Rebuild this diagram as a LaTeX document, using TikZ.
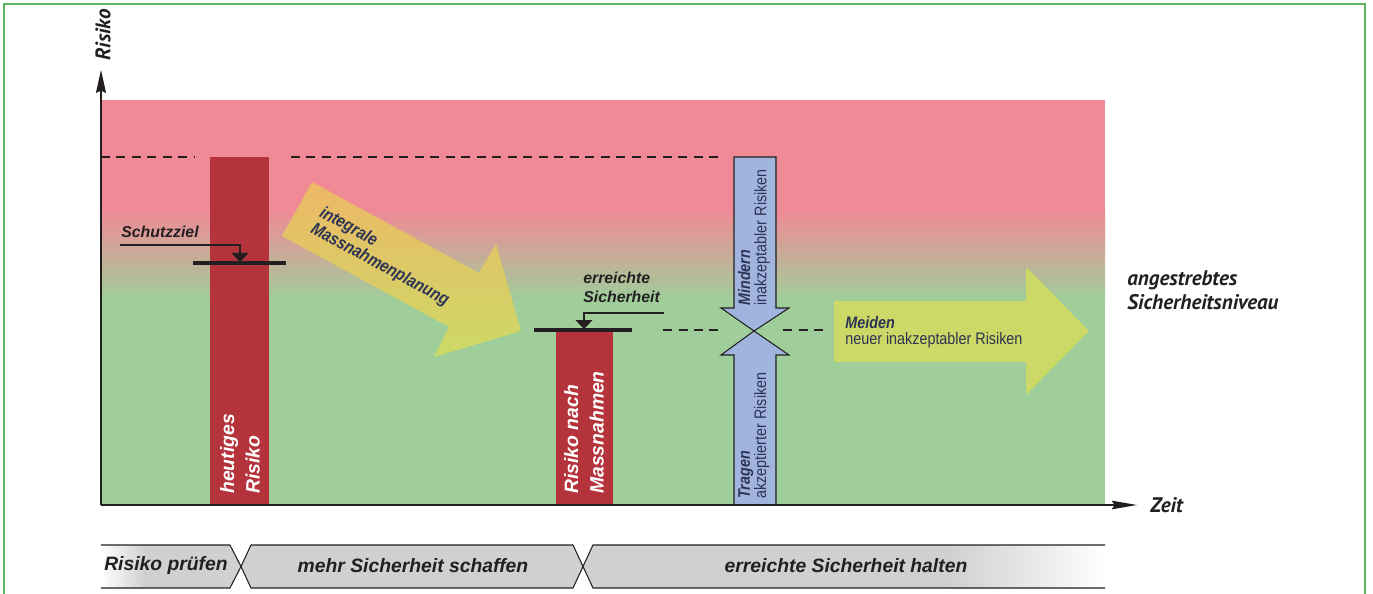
\documentclass[tikz,border=0pt]{standalone}
\usepackage{fontspec}
\setmainfont{Liberation Sans}
\newfontfamily\myriadlike{PT Sans}
\newfontfamily\narrowsans[FakeStretch=0.86]{Liberation Sans}
\usepackage{xcolor}
\usetikzlibrary{positioning,arrows.meta}
\definecolor{RiskPink}{HTML}{F08A96}
\definecolor{SafeGreen}{HTML}{9FCE9A}
\definecolor{BarRed}{HTML}{B5343C}
\definecolor{InkBlack}{HTML}{231F20}
\definecolor{ArrowBlue}{HTML}{A0B4DE}
\definecolor{NavyText}{HTML}{2D3454}
\definecolor{PlanOrange}{HTML}{EDB865}
\definecolor{PlanLime}{HTML}{CCDA66}
\definecolor{MeidLime}{HTML}{CCD966}
\definecolor{FrameGreen}{HTML}{5DB760}
\definecolor{BandGray}{HTML}{D0D0D2}

\begin{document}
\begin{tikzpicture}[x=0.02cm, y=-0.02cm]
    \tikzstyle{axisline}=[InkBlack, line width=1.1pt]
    \tikzstyle{dashline}=[InkBlack, line width=0.6pt, dash pattern=on 0.18cm off 0.13cm]
    \tikzstyle{levelline}=[InkBlack, line width=2pt]
    \tikzstyle{pointer}=[InkBlack, line width=0.7pt, -{Triangle[width=0.34cm, length=0.18cm]}]
    \tikzstyle{blockarrow}=[fill=ArrowBlue, draw=InkBlack, line width=0.6pt]
    \tikzstyle{phase}=[draw=InkBlack, line width=0.6pt]
    \tikzstyle{bartext}=[rotate=90, anchor=west, align=left, text=white, inner sep=0pt,
                         font=\fontsize{11pt}{14.5pt}\selectfont\bfseries\itshape]
    \tikzstyle{labeltext}=[align=left, inner sep=0pt, text=InkBlack,
                           font=\fontsize{9pt}{10.8pt}\selectfont\bfseries\itshape]
    \tikzstyle{axistext}=[inner sep=0pt, text=InkBlack,
                          font=\myriadlike\fontsize{12pt}{13.5pt}\selectfont\bfseries\itshape]
    \tikzstyle{arrowtext}=[align=left, inner sep=0pt, text=NavyText,
                           font=\narrowsans\fontsize{9.5pt}{9.2pt}\selectfont]
    \tikzstyle{phasetext}=[text=InkBlack, font=\fontsize{11pt}{13pt}\selectfont\bfseries\itshape]

    \useasboundingbox (0,0) rectangle (1373,594);
    \draw[FrameGreen, line width=0.85pt] (4,594) -- (4,4) -- (1365,4) -- (1365,594);

    \fill[RiskPink] (101,100) rectangle (1105,210);
    \shade[top color=RiskPink, bottom color=SafeGreen] (101,209.5) rectangle (1105,300.5);
    \fill[SafeGreen] (101,300) rectangle (1105,505);

    \draw[dashline] (101,157) -- (195,157);
    \draw[dashline] (291,157) -- (720,157);
    \draw[dashline] (663,330) -- (722,330);
    \draw[dashline] (783,330) -- (828,330);

    \fill[BarRed] (210,157) rectangle (269,505);
    \fill[BarRed] (556,330) rectangle (613,505);
    \draw[levelline] (193,263) -- (286,263);
    \draw[levelline] (534,330) -- (632,330);

    \coordinate (schutzTail) at (120,245);
    \coordinate (schutzLevel) at (240,262);
    \coordinate (reachedTail) at (664,313);
    \coordinate (reachedLevel) at (584,329);
    \draw[pointer] (schutzTail) -| (schutzLevel);
    \draw[pointer] (reachedTail) -| (reachedLevel);

    \shade[top color=PlanOrange, bottom color=PlanLime] (312,182) -- (479,273) -- (496,244)
        -- (521,331) -- (434,357) -- (449,327) -- (282,236) -- cycle;
    \draw[blockarrow] (734,157) -- (776,157) -- (776,308) -- (789,308) -- (754,331)
        -- (721,308) -- (734,308) -- cycle;
    \draw[blockarrow] (754,331) -- (789,355) -- (776,355) -- (776,505) -- (734,505)
        -- (734,355) -- (721,355) -- cycle;
    \fill[MeidLime] (834,301) -- (1026,301) -- (1026,267) -- (1089,331) -- (1026,395)
        -- (1026,362) -- (834,362) -- cycle;

    \coordinate (origin) at (101,505);
    \coordinate (ytip) at (101,70);
    \coordinate (xtip) at (1137,505);
    \draw[axisline, -{Stealth[length=0.46cm, width=0.2cm, inset=0.05cm]}] (origin) -- (ytip);
    \draw[axisline, -{Stealth[length=0.5cm, width=0.17cm, inset=0.05cm]}] (origin) -- (xtip);

    \fill[BandGray] (101,545) -- (230,545) -- (241,566.5) -- (230,588) -- (101,588) -- cycle;
    \shade[left color=white, right color=BandGray] (101,545) rectangle (145,588);
    \draw[phase] (101,545) -- (230,545) -- (241,566.5) -- (230,588) -- (101,588);
    \draw[phase, fill=BandGray] (241,566.5) -- (251,545) -- (573,545) -- (583,566.5)
        -- (573,588) -- (251,588) -- cycle;
    \fill[BandGray] (583,566.5) -- (593,545) -- (1105,545) -- (1105,588) -- (593,588) -- cycle;
    \shade[left color=BandGray, right color=white] (950,545) rectangle (1105,588);
    \draw[phase] (1105,545) -- (593,545) -- (583,566.5) -- (593,588) -- (1105,588);

    \node[axistext, rotate=90] (riskAxis) at (103,35) {Risiko};
    \node[axistext, right=0.26cm of xtip] (timeAxis) {Zeit};
    \node[axistext, align=left, anchor=south west] (targetLevel) at (1127,310)
        {angestrebtes\\Sicherheitsniveau};

    \node[labeltext, anchor=base west] (schutzLabel) at (121,238) {Schutzziel};
    \node[labeltext, anchor=south west] (reachedLabel) at (583,303) {erreichte\\Sicherheit};

    \node[bartext] (todayText) at (240,494) {heutiges\\Risiko};
    \node[bartext] (afterText) at (584,494) {Risiko nach\\Massnahmen};

    \node[arrowtext, font=\narrowsans\fontsize{10pt}{10.4pt}\selectfont\bfseries\itshape,
          rotate=-28.6, anchor=west] (planText) at (316,220) {integrale\\Massnahmenplanung};
    \node[arrowtext, rotate=90, anchor=west] (reduceText) at (754,306)
        {\textbf{\textit{Mindern}}\\inakzeptabler Risiken};
    \node[arrowtext, rotate=90, anchor=west] (bearText) at (754,499)
        {\textbf{\textit{Tragen}}\\akzeptierter Risiken};
    \node[arrowtext, anchor=west] (avoidText) at (845,332)
        {\textbf{\textit{Meiden}}\\neuer inakzeptabler Risiken};

    \node[phasetext] (checkText) at (166,566) {Risiko prüfen};
    \node[phasetext] (createText) at (413,566) {mehr Sicherheit schaffen};
    \node[phasetext] (holdText) at (846,566) {erreichte Sicherheit halten};
\end{tikzpicture}
\end{document}
